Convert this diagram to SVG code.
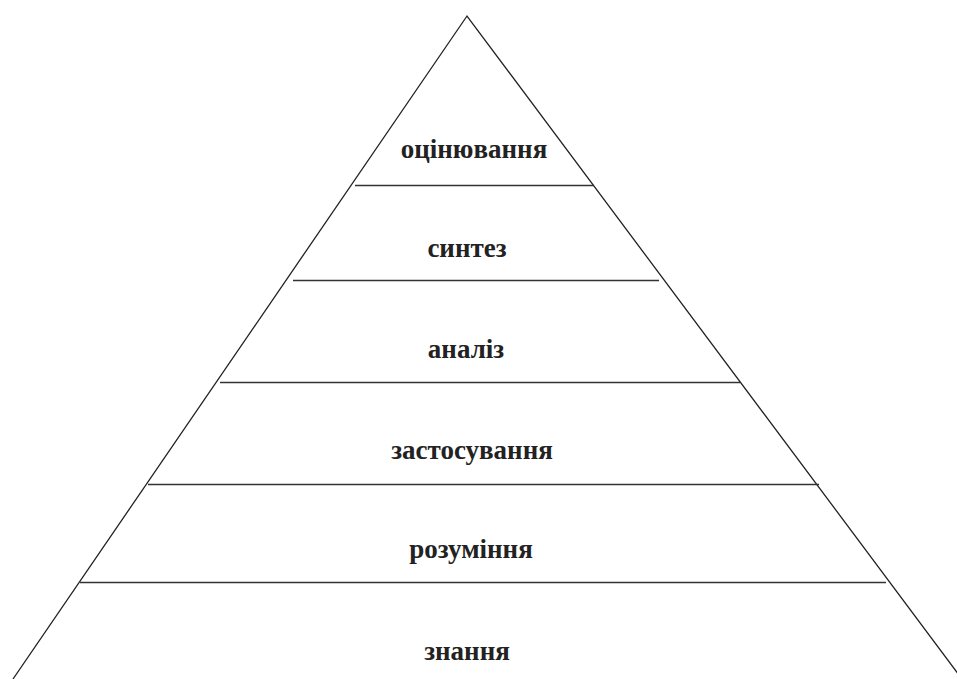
<svg xmlns="http://www.w3.org/2000/svg" width="957" height="679" viewBox="0 0 957 679">
<style>
.e{stroke:#222;stroke-width:1.3;fill:none}
.h{stroke:#333;stroke-width:1.5}
.t{font-family:"Liberation Serif","Times New Roman",serif;font-weight:bold;font-size:27px;fill:#222;text-anchor:middle}
</style>
<rect width="957" height="679" fill="#fff"/>
<g id="connectors">
<polyline class="e" points="13,679 467,16 962,679"/>
<line class="h" x1="355" y1="185.5" x2="594" y2="185.5"/>
<line class="h" x1="293" y1="280.5" x2="659" y2="280.5"/>
<line class="h" x1="220" y1="382.5" x2="740" y2="382.5"/>
<line class="h" x1="148" y1="484.5" x2="819" y2="484.5"/>
<line class="h" x1="80" y1="582.5" x2="886" y2="582.5"/>
</g>
<g id="n1"><text class="t" x="474" y="158">оцінювання</text></g>
<g id="n2"><text class="t" x="467" y="257">синтез</text></g>
<g id="n3"><text class="t" x="466" y="358">аналіз</text></g>
<g id="n4"><text class="t" x="472" y="459">застосування</text></g>
<g id="n5"><text class="t" x="471" y="558">розуміння</text></g>
<g id="n6"><text class="t" x="467" y="660">знання</text></g>
</svg>
